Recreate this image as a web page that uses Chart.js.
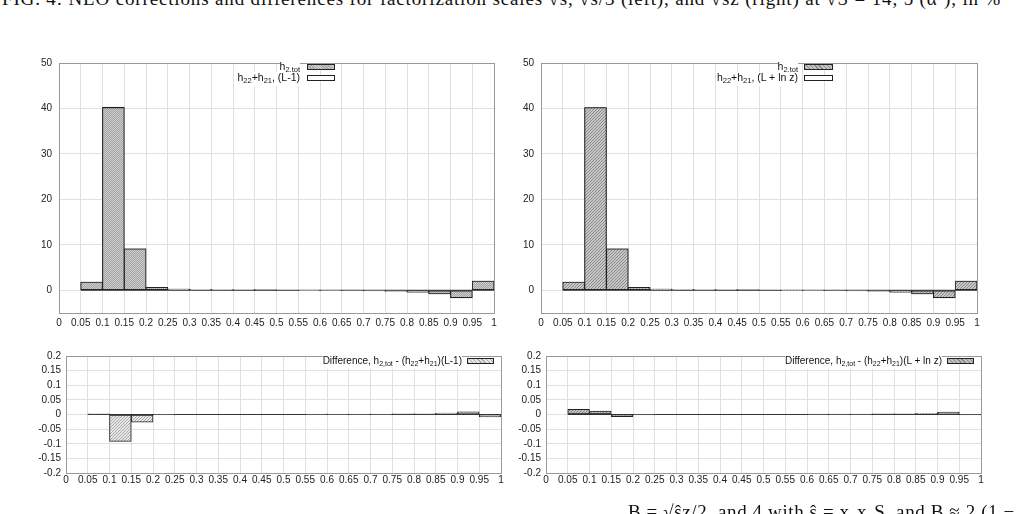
<!DOCTYPE html>
<html>
<head>
<meta charset="utf-8">
<script src="https://cdn.jsdelivr.net/npm/chart.js@4"></script>
<style>
  body { margin: 0; width: 1017px; height: 514px; overflow: hidden; background: #fff; position: relative; font-family: "Liberation Sans", Arial, sans-serif; }
  canvas { position: absolute; }
  .cap { position: absolute; left: 2px; white-space: nowrap; font-family: "Liberation Serif", "DejaVu Serif", serif; font-size: 19px; color: #111; }
  .leg { position: absolute; white-space: nowrap; font-size: 10.5px; color: #111; background: #fff; text-align: right; line-height: 11px; }
  .leg sub { font-size: 7.5px; vertical-align: -2px; }
  .leg.d { font-size: 10px; }
  .leg.d sub { font-size: 7px; }
  .sw { position: absolute; height: 4px; border: 1px solid #222; }
</style>
</head>
<body>
<div class="cap" style="top:-12px; letter-spacing:0.85px;">FIG. 4: NLO corrections and differences for factorization scales √ŝ, √ŝ/3 (left), and √ŝz (right) at √S = 14, 5 (α²), in %</div>

<canvas id="tl" width="500" height="290" style="left:10px; top:50px;"></canvas>
<canvas id="tr" width="500" height="290" style="left:500px; top:50px;"></canvas>
<canvas id="bl" width="500" height="150" style="left:10px; top:345px;"></canvas>
<canvas id="br" width="500" height="150" style="left:500px; top:345px;"></canvas>

<div class="leg" style="right:717px; top:61px;">h<sub>2,tot</sub></div>
<div class="sw" style="left:307px; top:64px; width:26px; background:repeating-linear-gradient(45deg,#a8a8a8 0 1px,#cfcfcf 1px 2px);"></div>
<div class="leg" style="right:717px; top:72px;">h<sub>22</sub>+h<sub>21</sub>, (L-1)</div>
<div class="sw" style="left:307px; top:75px; width:26px; background:#fff;"></div>

<div class="leg" style="right:219px; top:61px;">h<sub>2,tot</sub></div>
<div class="sw" style="left:804px; top:64px; width:27px; background:repeating-linear-gradient(45deg,#888 0 1px,#c4c4c4 1px 3px);"></div>
<div class="leg" style="right:219px; top:72px;">h<sub>22</sub>+h<sub>21</sub>, (L + ln z)</div>
<div class="sw" style="left:804px; top:75px; width:27px; background:#fff;"></div>

<div class="leg d" style="right:555px; top:355px;">Difference, h<sub>2,tot</sub> - (h<sub>22</sub>+h<sub>21</sub>)(L-1)</div>
<div class="sw" style="left:467px; top:358px; width:25px; background:repeating-linear-gradient(45deg,#aaa 0 1px,#e6e6e6 1px 3px);"></div>
<div class="leg d" style="right:75px; top:355px;">Difference, h<sub>2,tot</sub> - (h<sub>22</sub>+h<sub>21</sub>)(L + ln z)</div>
<div class="sw" style="left:947px; top:358px; width:25px; background:repeating-linear-gradient(45deg,#888 0 1px,#c0c0c0 1px 3px);"></div>

<div class="cap" style="top:501px; left:628px; letter-spacing:0.6px;">B = √ŝz/2, and 4 with ŝ = x₁x₂S, and B ≈ 2 (1 − z)²/z</div>

<script>
// bin centres (bins 0.05 wide, 0.05 .. 1)
const binCenters = [0.075, 0.125, 0.175, 0.225, 0.275, 0.325, 0.375, 0.425, 0.475, 0.525,
                    0.575, 0.625, 0.675, 0.725, 0.775, 0.825, 0.875, 0.925, 0.975];
const baseEdges = [0.05, 1];

const xTicks = [0, 0.05, 0.1, 0.15, 0.2, 0.25, 0.3, 0.35, 0.4, 0.45, 0.5, 0.55, 0.6, 0.65, 0.7, 0.75, 0.8, 0.85, 0.9, 0.95, 1];
const topYTicks = [0, 10, 20, 30, 40, 50];
const diffYTicks = [-0.2, -0.15, -0.1, -0.05, 0, 0.05, 0.1, 0.15, 0.2];

// top left: h2,tot and h22+h21 (L-1)
const h2totL = [1.8, 40.2, 9.1, 0.65, 0.25, 0.15, 0.08, 0.03, 0.01, 0.0, -0.02, -0.05, -0.1, -0.15, -0.22, -0.4, -0.8, -1.65, 2.0];
const h22h21L = [1.8, 40.29, 9.13, 0.65, 0.25, 0.15, 0.08, 0.03, 0.01, 0.0, -0.02, -0.05, -0.1, -0.15, -0.22, -0.4, -0.8, -1.66, 2.01];
// top right: h2,tot and h22+h21 (L + ln z)
const h2totZ = [1.8, 40.2, 9.1, 0.65, 0.25, 0.15, 0.08, 0.03, 0.01, 0.0, -0.02, -0.05, -0.1, -0.15, -0.22, -0.4, -0.8, -1.65, 2.0];
const h22h21Z = [1.78, 40.19, 9.11, 0.65, 0.25, 0.15, 0.08, 0.03, 0.01, 0.0, -0.02, -0.05, -0.1, -0.15, -0.22, -0.4, -0.8, -1.66, 2.0];
// bottom: differences
const diffL = [0.002, -0.092, -0.026, -0.001, 0, 0, 0, 0, 0, 0, 0.001, 0.001, 0.001, 0.001, 0.002, 0.002, 0.005, 0.009, -0.008];
const diffZ = [0.018, 0.012, -0.007, -0.001, 0, 0, 0, 0, 0, 0, 0, 0.001, 0.001, 0.001, 0.002, 0.002, 0.004, 0.008, -0.001];

const tickFont = { family: "'Liberation Sans Narrow', 'Liberation Sans', Arial", size: 10 };

function hatch(bg, fg, step) {
  const c = document.createElement("canvas");
  c.width = step; c.height = step;
  const g = c.getContext("2d");
  g.fillStyle = bg; g.fillRect(0, 0, step, step);
  g.strokeStyle = fg; g.lineWidth = 1;
  g.beginPath();
  g.moveTo(0, step); g.lineTo(step, 0);
  g.moveTo(-1, 1); g.lineTo(1, -1);
  g.moveTo(step - 1, step + 1); g.lineTo(step + 1, step - 1);
  g.stroke();
  return g.createPattern(c, "repeat");
}

const framePlugin = {
  id: "frame",
  afterDraw(chart) {
    const { ctx, chartArea: a } = chart;
    ctx.save();
    ctx.strokeStyle = "#9a9a9a";
    ctx.lineWidth = 1;
    ctx.strokeRect(Math.round(a.left) + 0.5, Math.round(a.top) + 0.5, Math.round(a.right - a.left), Math.round(a.bottom - a.top));
    ctx.restore();
  }
};

function pts(vals) {
  return vals.map((v, i) => ({ x: binCenters[i], y: v }));
}

function makeChart(id, sets, y, lay) {
  const datasets = sets.map(s => ({
    type: "bar",
    data: pts(s.vals),
    backgroundColor: s.fill,
    borderColor: "#222",
    borderWidth: 1,
    borderSkipped: false,
    grouped: false,
    barPercentage: 1,
    categoryPercentage: 1
  }));
  datasets.push({
    type: "line",
    data: baseEdges.map(x => ({ x: x, y: 0 })),
    borderColor: "#333",
    borderWidth: 1,
    pointRadius: 0
  });
  return new Chart(document.getElementById(id), {
    type: "bar",
    data: { datasets },
    plugins: [framePlugin],
    options: {
      responsive: false,
      animation: false,
      events: [],
      layout: { padding: { top: lay.top, right: lay.right, left: 0, bottom: 0 } },
      plugins: { legend: { display: false }, tooltip: { enabled: false } },
      scales: {
        x: {
          type: "linear", min: 0, max: 1, offset: false,
          grid: { color: "#e0e0e0", drawTicks: false, offset: false },
          border: { display: false },
          afterBuildTicks: s => { s.ticks = xTicks.map(v => ({ value: v })); },
          afterFit: s => { s.height = lay.xh; },
          ticks: { autoSkip: false, maxRotation: 0, padding: lay.xpad, color: "#222",
                   font: tickFont, callback: v => String(v) }
        },
        y: {
          min: y.min, max: y.max,
          grid: { color: "#e0e0e0", drawTicks: false },
          border: { display: false },
          afterBuildTicks: s => { s.ticks = y.ticks.map(v => ({ value: v })); },
          afterFit: s => { s.width = lay.yw; },
          ticks: { autoSkip: false, padding: lay.ypad, color: "#222",
                   font: tickFont, callback: v => String(v) }
        }
      }
    }
  });
}

const topY = { min: -5, max: 50, ticks: topYTicks };
const diffY = { min: -0.2, max: 0.2, ticks: diffYTicks };

makeChart("tl", [
  { vals: h2totL, fill: hatch("#cdcdcd", "#a4a4a4", 2) },
  { vals: h22h21L, fill: "rgba(255,255,255,0)" }
], topY, { top: 9, right: 16, xh: 27, yw: 49, xpad: 4, ypad: 7 });

makeChart("tr", [
  { vals: h2totZ, fill: hatch("#c6c6c6", "#8c8c8c", 3) },
  { vals: h22h21Z, fill: "rgba(255,255,255,0)" }
], topY, { top: 9, right: 23, xh: 27, yw: 41, xpad: 4, ypad: 7 });

makeChart("bl", [
  { vals: diffL, fill: hatch("#e8e8e8", "#a8a8a8", 3) }
], diffY, { top: 11, right: 9, xh: 22, yw: 56, xpad: 1, ypad: 5 });

makeChart("br", [
  { vals: diffZ, fill: hatch("#c2c2c2", "#888", 3) }
], diffY, { top: 11, right: 19, xh: 22, yw: 46, xpad: 1, ypad: 5 });
</script>
</body>
</html>
